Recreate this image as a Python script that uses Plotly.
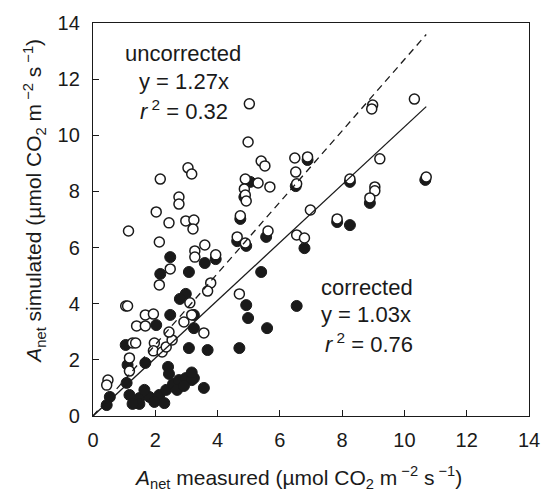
import plotly.graph_objects as go

# Uncorrected model output (open circles): measured vs simulated A_net
measured_uncorr = [
    10.32, 8.98, 8.95, 5.02, 4.98, 5.40, 5.52, 6.48, 6.89, 9.21,
    6.51, 6.54, 8.25, 10.70, 9.05, 9.05, 8.89, 6.98, 7.84, 6.54,
    6.79, 4.70, 1.14, 2.16, 3.05, 3.17, 2.76, 2.76, 2.03, 2.44,
    2.98, 3.24, 3.21, 2.13, 3.59, 3.27, 3.27, 3.94, 2.48, 2.13,
    3.78, 3.68, 4.89, 5.30, 5.68, 4.86, 4.89, 4.92, 4.73, 4.63,
    4.89, 5.62, 3.56, 1.05, 1.11, 1.68, 1.94, 1.40, 1.68, 3.11,
    2.92, 3.17, 1.27, 1.37, 1.97, 1.94, 2.22, 2.35, 2.54, 1.17,
    1.17, 0.48, 0.44, 2.44,
]
simulated_uncorr = [
    11.29, 11.08, 10.94, 11.12, 9.76, 9.08, 8.91, 9.19, 9.23, 9.16,
    8.69, 8.27, 8.44, 8.51, 8.16, 8.02, 7.77, 7.34, 7.02, 6.45,
    6.34, 4.35, 6.59, 8.44, 8.84, 8.62, 7.80, 7.55, 7.27, 6.88,
    6.95, 6.98, 6.66, 6.20, 6.09, 5.88, 5.66, 5.74, 5.24, 4.67,
    4.74, 4.45, 8.44, 8.30, 8.16, 8.09, 7.87, 7.66, 7.13, 6.38,
    6.16, 6.59, 2.96, 3.92, 3.92, 3.60, 3.63, 3.21, 3.21, 4.03,
    3.35, 3.60, 2.60, 2.60, 2.60, 2.32, 2.28, 2.46, 2.71, 2.07,
    1.60, 1.28, 1.10, 2.99,
]

# Corrected model output (filled circles)
measured_corr = [
    10.67, 8.89, 8.25, 7.84, 8.25, 6.79, 6.54, 5.40, 6.51, 6.89,
    4.92, 4.98, 5.59, 4.70, 3.68, 3.56, 3.24, 3.24, 3.24, 2.48,
    2.16, 3.08, 3.59, 3.94, 5.05, 4.86, 4.73, 4.63, 4.92, 5.56,
    2.98, 2.79, 2.48, 2.03, 1.05, 3.08, 1.11, 1.68, 2.41, 0.54,
    0.44, 1.08, 1.17, 1.49, 1.81, 2.13, 2.35, 2.57, 2.76, 2.98,
    3.17, 2.70, 1.97, 1.49, 1.27, 1.65, 2.92, 2.29, 2.44, 3.17,
]
simulated_corr = [
    8.41, 7.59, 8.34, 6.91, 6.80, 5.98, 3.92, 5.13, 8.19, 9.12,
    3.95, 3.49, 3.13, 2.42, 2.35, 1.00, 1.35, 3.13, 3.60, 5.66,
    5.06, 5.13, 5.45, 5.59, 8.34, 7.80, 7.02, 6.23, 6.06, 6.38,
    4.35, 4.17, 3.60, 3.24, 2.53, 2.42, 1.82, 1.89, 1.75, 0.68,
    0.39, 1.18, 0.75, 0.64, 0.68, 0.75, 0.93, 1.14, 1.28, 1.35,
    1.28, 0.93, 0.50, 0.43, 0.43, 0.93, 1.07, 0.46, 1.50, 1.55,
]

# Regression fits through the origin
slope_uncorr = 1.27
slope_corr = 1.03
fit_x = [0, 10.7]

axis_ticks = [0, 2, 4, 6, 8, 10, 12, 14]

FONT = "Liberation Sans, Arial, sans-serif"
INK = "#1a1a1a"

fig = go.Figure()

fig.add_trace(go.Scatter(
    x=measured_corr, y=simulated_corr, mode="markers",
    marker=dict(symbol="circle", size=11, color=INK,
                line=dict(color=INK, width=1)),
    showlegend=False, hoverinfo="x+y",
))
fig.add_trace(go.Scatter(
    x=measured_uncorr, y=simulated_uncorr, mode="markers",
    marker=dict(symbol="circle", size=10, color="white",
                line=dict(color=INK, width=1.5)),
    showlegend=False, hoverinfo="x+y",
))
fig.add_trace(go.Scatter(
    x=fit_x, y=[slope_uncorr * v for v in fit_x], mode="lines",
    line=dict(color=INK, width=1.3, dash="7px,5px"),
    showlegend=False, hoverinfo="skip",
))
fig.add_trace(go.Scatter(
    x=fit_x, y=[slope_corr * v for v in fit_x], mode="lines",
    line=dict(color=INK, width=1.3),
    showlegend=False, hoverinfo="skip",
))

axis_common = dict(
    range=[0, 14], tickvals=axis_ticks, ticktext=[str(t) for t in axis_ticks],
    ticks="inside", ticklen=6, tickwidth=1.2, tickcolor=INK,
    showline=True, linecolor=INK, linewidth=1.3, mirror=True,
    showgrid=False, zeroline=False,
    tickfont=dict(family=FONT, size=20, color=INK),
)

fig.update_layout(
    width=552, height=493,
    margin=dict(l=93, r=18, t=23, b=77),
    paper_bgcolor="white", plot_bgcolor="white",
    xaxis=dict(**axis_common, ticklabelstandoff=6),
    yaxis=dict(**axis_common, ticklabelstandoff=8),
    font=dict(family=FONT, color=INK),
)

label_font = dict(family=FONT, size=22, color=INK)
labels = [
    ("uncorrected", 123, 53),
    ("y = 1.27x", 137, 81),
    ("<i>r</i><sup> 2</sup> = 0.32", 139, 110),
    ("corrected", 322, 287),
    ("y = 1.03x", 322, 314),
    ("<i>r</i><sup> 2</sup> = 0.76", 326, 343),
]
for text, px, py in labels:
    fig.add_annotation(
        text=text, xref="paper", yref="paper",
        x=(px - 93) / 441, y=(416 - py) / 393,
        xanchor="left", yanchor="middle", showarrow=False, font=label_font,
    )

title_font = dict(family=FONT, size=21, color=INK)
fig.add_annotation(
    text="<i>A</i><sub>net</sub> measured (µmol CO<sub>2</sub> m<sup> −2</sup> s<sup> −1</sup>)",
    xref="paper", yref="paper", x=(300 - 93) / 441, y=(416 - 477) / 393,
    xanchor="center", yanchor="middle", showarrow=False, font=title_font,
)
fig.add_annotation(
    text="<i>A</i><sub>net</sub> simulated (µmol CO<sub>2</sub> m<sup> −2</sup> s<sup> −1</sup>)",
    xref="paper", yref="paper", x=(33 - 93) / 441, y=(416 - 201) / 393,
    xanchor="center", yanchor="middle", textangle=-90, showarrow=False,
    font=title_font,
)

fig.write_html("out.html")
